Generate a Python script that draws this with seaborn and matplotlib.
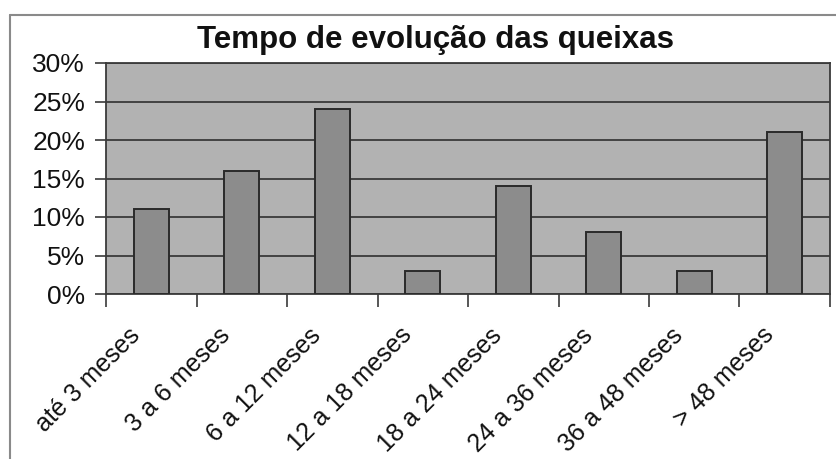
import matplotlib
matplotlib.use("Agg")
import matplotlib.pyplot as plt
import matplotlib.transforms as mtransforms
from matplotlib.lines import Line2D
import numpy as np
import pandas as pd
import seaborn as sns

categories = ["até 3 meses", "3 a 6 meses", "6 a 12 meses", "12 a 18 meses",
              "18 a 24 meses", "24 a 36 meses", "36 a 48 meses", "> 48 meses"]
percentages = [11, 16, 24, 3, 14, 8, 3, 21]
y_ticks = [0, 5, 10, 15, 20, 25, 30]
y_tick_labels = ["0%", "5%", "10%", "15%", "20%", "25%", "30%"]
title = "Tempo de evolução das queixas"

df = pd.DataFrame({"categoria": categories, "pct": percentages})

sns.set_theme(style="white")
plt.rcParams["font.family"] = ["Liberation Sans", "DejaVu Sans"]

W, H = 837, 459
fig = plt.figure(figsize=(W / 100, H / 100), dpi=100)
fig.patch.set_facecolor("white")

# Plot area in pixel coordinates
left, right, top, bottom = 106, 830, 63, 294
ax = fig.add_axes([left / W, 1 - bottom / H, (right - left) / W, (bottom - top) / H])
ax.set_facecolor("#b2b2b2")

sns.barplot(data=df, x="categoria", y="pct", ax=ax, color="#8c8c8c",
            saturation=1, width=0.39, edgecolor="#2a2a2a", linewidth=1.4,
            zorder=3)

ax.set_xlim(-0.5, len(categories) - 0.5)
ax.set_ylim(0, 30)
ax.set_xlabel("")
ax.set_ylabel("")

# Horizontal grid lines
ax.set_yticks(y_ticks)
ax.set_yticklabels(y_tick_labels, fontsize=19, color="#111111")
ax.yaxis.grid(True, color="#3a3a3a", linewidth=1.3, zorder=1)
ax.set_axisbelow(True)
ax.tick_params(axis="y", direction="out", length=8, width=1.2, color="#3a3a3a",
               pad=7, left=True)

# Category boundaries as major ticks, labels centred as minor ticks
ax.set_xticks(np.arange(-0.5, len(categories), 1.0))
ax.set_xticklabels([])
ax.tick_params(axis="x", which="major", direction="out", length=9, width=1.2,
               color="#3a3a3a", bottom=True)
ax.set_xticks(np.arange(len(categories)), minor=True)
ax.set_xticklabels(categories, minor=True, fontsize=18, color="#111111",
                   rotation=45, ha="right", rotation_mode="anchor", va="center")
ax.tick_params(axis="x", which="minor", length=0, pad=27)
shift = mtransforms.ScaledTranslation(-15 / 100, 0, fig.dpi_scale_trans)
for lbl in ax.get_xticklabels(minor=True):
    lbl.set_transform(lbl.get_transform() + shift)

for side in ["left", "right", "top", "bottom"]:
    ax.spines[side].set_visible(True)
    ax.spines[side].set_color("#3a3a3a")
    ax.spines[side].set_linewidth(1.3)

fig.text(436 / W, 1 - 48 / H, title, ha="center", va="baseline",
         fontsize=22.5, fontweight="bold", color="#111111")

# Outer chart frame
fig.add_artist(Line2D([10 / W, 1.0], [1 - 15 / H, 1 - 15 / H],
                      transform=fig.transFigure, color="#8a8a8a", linewidth=1.5))
fig.add_artist(Line2D([10 / W, 10 / W], [1 - 15 / H, 0.0],
                      transform=fig.transFigure, color="#8a8a8a", linewidth=1.5))

fig.savefig("out.png", dpi=100, facecolor="white")
